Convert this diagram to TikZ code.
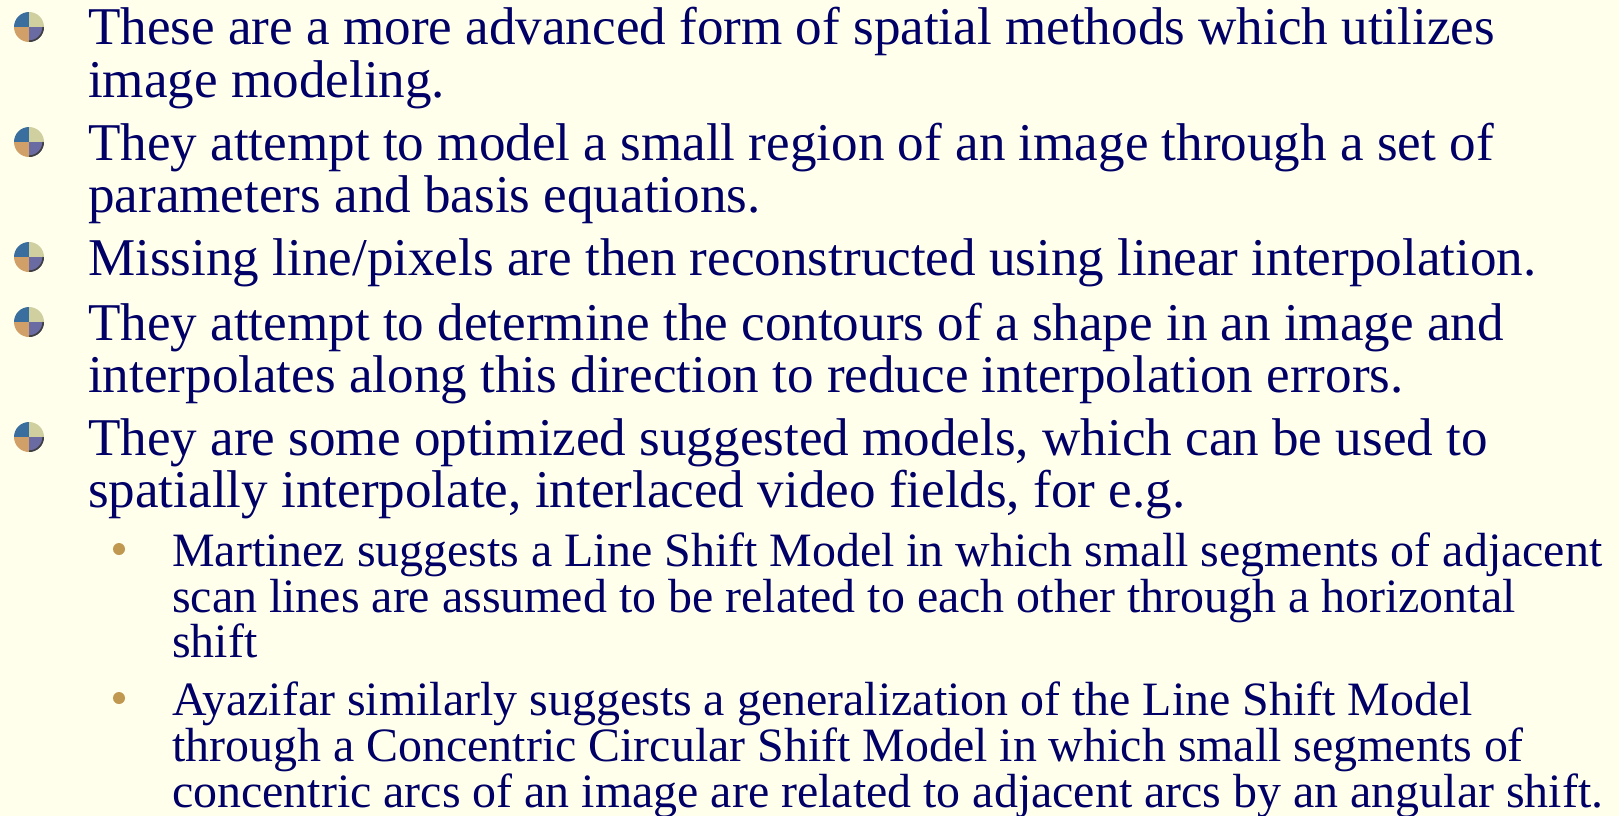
\documentclass[tikz,border=0pt]{standalone}
\usepackage{fontspec}
\setmainfont{Liberation Serif}
\definecolor{bg}{HTML}{FFFFEC}
\definecolor{ink}{HTML}{000066}
\definecolor{subdot}{HTML}{C09850}
\definecolor{qtl}{HTML}{3A6E9E}
\definecolor{qtr}{HTML}{CFCFA0}
\definecolor{qbl}{HTML}{D0A068}
\definecolor{qbr}{HTML}{6B6BA3}
\tikzset{
  mainline/.style={anchor=base west, inner sep=0pt, text=ink, font=\fontsize{53.1}{52}\selectfont},
  subline/.style={anchor=base west, inner sep=0pt, text=ink, font=\fontsize{47.9}{46}\selectfont},
}
\newcommand{\myorb}[2]{%
  \begin{scope}
    \clip (#1,#2) circle[radius=15];
    \fill[qtl] (#1-15,#2-15) rectangle (#1,#2);
    \fill[qtr] (#1,#2-15) rectangle (#1+15,#2);
    \fill[qbl] (#1-15,#2) rectangle (#1,#2+15);
    \fill[qbr] (#1,#2) rectangle (#1+15,#2+15);
  \end{scope}
  \draw[black!75, line width=1.6pt] (#1+14.2,#2) arc[start angle=0,end angle=90,radius=14.2];
}
\begin{document}
\begin{tikzpicture}[x=1pt,y=-1pt]
\fill[bg] (0,0) rectangle (1619,816);
\useasboundingbox (0,0) rectangle (1619,816);
% bullets
\myorb{29}{27}
\myorb{29}{142}
\myorb{29}{257}
\myorb{29}{322}
\myorb{29}{437}
\fill[subdot] (119,549) circle[radius=6];
\fill[subdot] (119,698) circle[radius=6];
% main text
\node[mainline] (l1) at (88,45) {These are a more advanced form of spatial methods which utilizes};
\node[mainline] (l2) at (88,97) {image modeling.};
\node[mainline] (l3) at (88,160) {They attempt to model a small region of an image through a set of};
\node[mainline] (l4) at (88,212) {parameters and basis equations.};
\node[mainline] (l5) at (88,275) {Missing line/pixels are then reconstructed using linear interpolation.};
\node[mainline] (l6) at (88,340) {They attempt to determine the contours of a shape in an image and};
\node[mainline] (l7) at (88,392) {interpolates along this direction to reduce interpolation errors.};
\node[mainline] (l8) at (88,455) {They are some optimized suggested models, which can be used to};
\node[mainline] (l9) at (88,507) {spatially interpolate, interlaced video fields, for e.g.};
% sub text
\node[subline] (s1) at (172,566) {Martinez suggests a Line Shift Model in which small segments of adjacent};
\node[subline] (s2) at (172,612) {scan lines are assumed to be related to each other through a horizontal};
\node[subline] (s3) at (172,657) {shift};
\node[subline] (s4) at (172,715) {Ayazifar similarly suggests a generalization of the Line Shift Model};
\node[subline] (s5) at (172,761) {through a Concentric Circular Shift Model in which small segments of};
\node[subline] (s6) at (172,807) {concentric arcs of an image are related to adjacent arcs by an angular shift.};
\end{tikzpicture}
\end{document}
